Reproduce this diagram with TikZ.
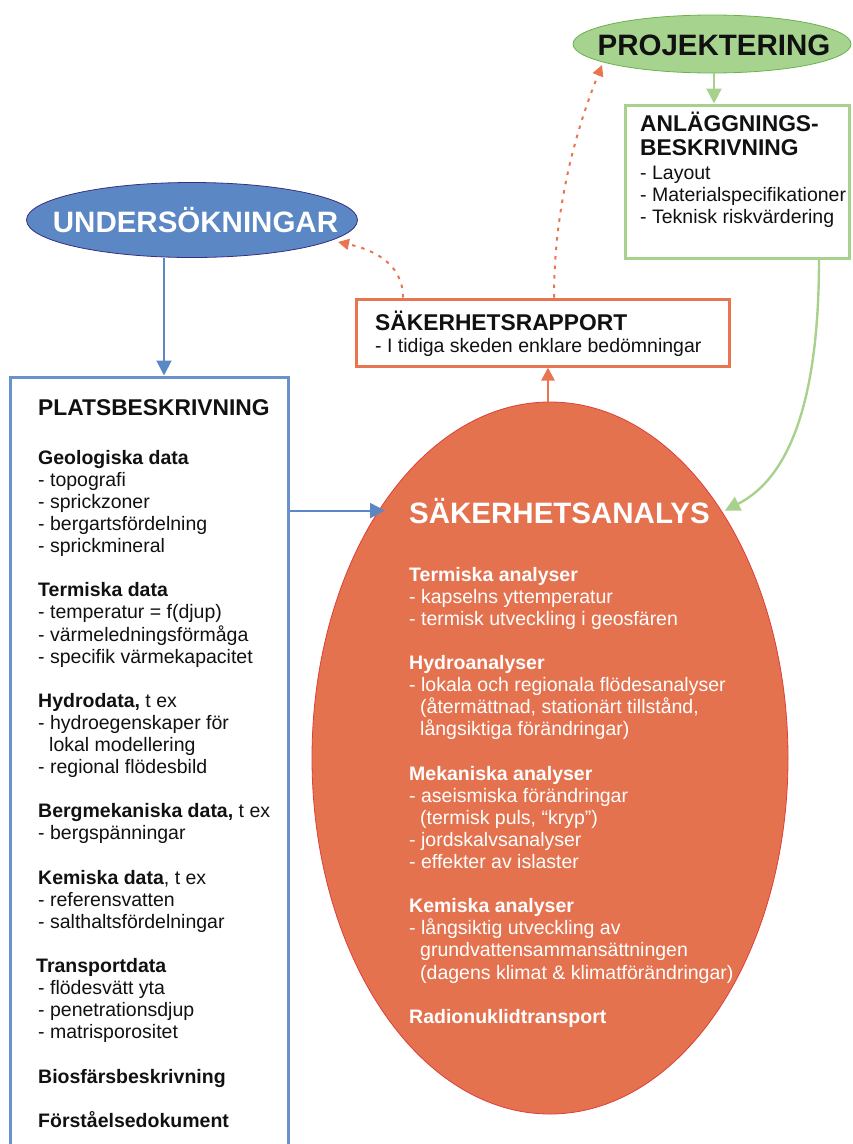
\documentclass[tikz,border=0pt]{standalone}
\usepackage{fontspec}
\setmainfont{Liberation Sans}
\usetikzlibrary{arrows.meta,shapes.geometric}
\definecolor{grn}{HTML}{A6D48F}
\definecolor{grnd}{HTML}{6DB04E}
\definecolor{grnb}{HTML}{A9D18E}
\definecolor{blu}{HTML}{5B87C5}
\definecolor{blud}{HTML}{35307F}
\definecolor{blub}{HTML}{6A91CC}
\definecolor{org}{HTML}{E5724F}
\definecolor{orgd}{HTML}{DE3F3A}
\definecolor{orgb}{HTML}{E8754F}
\definecolor{txt}{HTML}{111111}
\newcommand\fbig{\fontsize{29.5}{32}\selectfont\bfseries}
\newcommand\fmid{\fontsize{22.8}{24.3}\selectfont\bfseries}
\newcommand\fbody{\fontsize{19.5}{22.1}\selectfont}
\newcommand\gap{\\[22.1pt]}
\newcommand\ind{\hspace*{11pt}}
\begin{document}
\begin{tikzpicture}[x=1pt,y=-1pt,
  txtnode/.style={inner sep=0pt,text=txt},
  bodytext/.style={txtnode,anchor=north west,align=left,font=\fbody},
  boxframe/.style={draw,line width=3pt,inner sep=0pt},
  blarrow/.style={draw=blu,line width=2pt,-{Triangle[length=15pt,width=15pt]}},
  grarrow/.style={draw=grnb,line width=2.4pt,-{Triangle[length=15pt,width=15pt]}},
  orarrow/.style={draw=orgb,line width=2.4pt,-{Triangle[length=13pt,width=13pt]}},
  dotarrow/.style={draw=orgb,line width=2pt,dash pattern=on 3.5pt off 6pt,-{Triangle[length=11pt,width=11pt]}}
]
\useasboundingbox (0,0) rectangle (852,1144);
\clip (0,0) rectangle (852,1144);

% shapes
\node[ellipse,fill=grn,draw=grnd,line width=0.8pt,minimum width=278pt,minimum height=58pt,inner sep=0pt] (proj) at (712,44) {};
\node[ellipse,fill=blu,draw=blud,line width=0.8pt,minimum width=331pt,minimum height=75pt,inner sep=0pt] (und) at (192,220) {};
\node[ellipse,fill=org,draw=orgd,line width=0.8pt,minimum width=476pt,minimum height=712pt,inner sep=0pt] (sa) at (550,758) {};
\node[boxframe,draw=grnb,fill=white,minimum width=224pt,minimum height=153pt] (anl) at (737,181.5) {};
\node[boxframe,draw=orgb,fill=white,minimum width=373pt,minimum height=67pt] (rap) at (542.5,332.5) {};
\node[boxframe,draw=blub,fill=white,minimum width=278pt,minimum height=783pt] (plats) at (149,768.5) {};

% texts
\node[txtnode,anchor=base,font=\fbig] (projt) at (714,55) {PROJEKTERING};
\node[txtnode,anchor=base,font=\fbig,text=white] (undt) at (195.5,232) {UNDERSÖKNINGAR};

\node[txtnode,anchor=north west,align=left,font=\fmid] (anlt) at (640,111) {\rule{0pt}{20pt}ANLÄGGNINGS-\\BESKRIVNING};
\node[bodytext] (anlb) at (640,159) {\rule{0pt}{20pt}- Layout\\- Materialspecifikationer\\- Teknisk riskvärdering};

\node[txtnode,anchor=base west,font=\fmid] (rapt) at (375,330) {SÄKERHETSRAPPORT};
\node[txtnode,anchor=base west,font=\fbody] (rapb) at (375,352) {- I tidiga skeden enklare bedömningar};

\node[txtnode,anchor=base west,font=\fmid] (platst) at (38,415) {PLATSBESKRIVNING};
\node[bodytext] (platsb) at (38,444) {\rule{0pt}{20pt}\textbf{Geologiska data}\\%
- topografi\\- sprickzoner\\- bergartsfördelning\\- sprickmineral\gap%
\textbf{Termiska data}\\- temperatur = f(djup)\\- värmeledningsförmåga\\- specifik värmekapacitet\gap%
\textbf{Hydrodata,} t ex\\- hydroegenskaper för\\\ind lokal modellering\\- regional flödesbild\gap%
\textbf{Bergmekaniska data,} t ex\\- bergspänningar\gap%
\textbf{Kemiska data}, t ex\\- referensvatten\\- salthaltsfördelningar\gap%
\hspace*{-2pt}\textbf{Transportdata}\\- flödesvätt yta\\- penetrationsdjup\\- matrisporositet\gap%
\textbf{Biosfärsbeskrivning}\gap%
\textbf{Förståelsedokument}};

\node[txtnode,anchor=base west,font=\fbig,text=white] (sat) at (409,523) {SÄKERHETSANALYS};
\node[bodytext,text=white] (sab) at (409,561) {\rule{0pt}{20pt}\textbf{Termiska analyser}\\%
- kapselns yttemperatur\\- termisk utveckling i geosfären\gap%
\textbf{Hydroanalyser}\\- lokala och regionala flödesanalyser\\\ind(återmättnad, stationärt tillstånd,\\\ind långsiktiga förändringar)\gap%
\textbf{Mekaniska analyser}\\- aseismiska förändringar\\\ind(termisk puls, “kryp”)\\- jordskalvsanalyser\\- effekter av islaster\gap%
\textbf{Kemiska analyser}\\- långsiktig utveckling av\\\ind grundvattensammansättningen\\\ind(dagens klimat \& klimatförändringar)\gap%
\textbf{Radionuklidtransport}};

% connectors
\draw[grarrow] ([xshift=2pt]proj.south) -- ([xshift=-23pt]anl.north);
\draw[grarrow] ([xshift=82pt]anl.south) .. controls +(0,140) and +(65,-33) .. ([xshift=15pt]sat.east);
\draw[blarrow] ([xshift=-28pt]und.south) -- ([xshift=15pt]plats.north);
\draw[blarrow] (plats.east |- sat.west) -- ([xshift=-24pt]sat.west);
\draw[orarrow] ([xshift=-2pt]sa.north) -- ([xshift=5.5pt]rap.south);
\draw[dotarrow] ([xshift=11.5pt]rap.north) .. controls +(0,-98) and +(-22,55) .. ([xshift=-110pt,yshift=-21pt]proj.center);
\draw[dotarrow] ([xshift=-139.5pt]rap.north) .. controls +(0,-33) and +(37,8) .. ([xshift=146pt,yshift=-22pt]und.center);
\end{tikzpicture}
\end{document}
